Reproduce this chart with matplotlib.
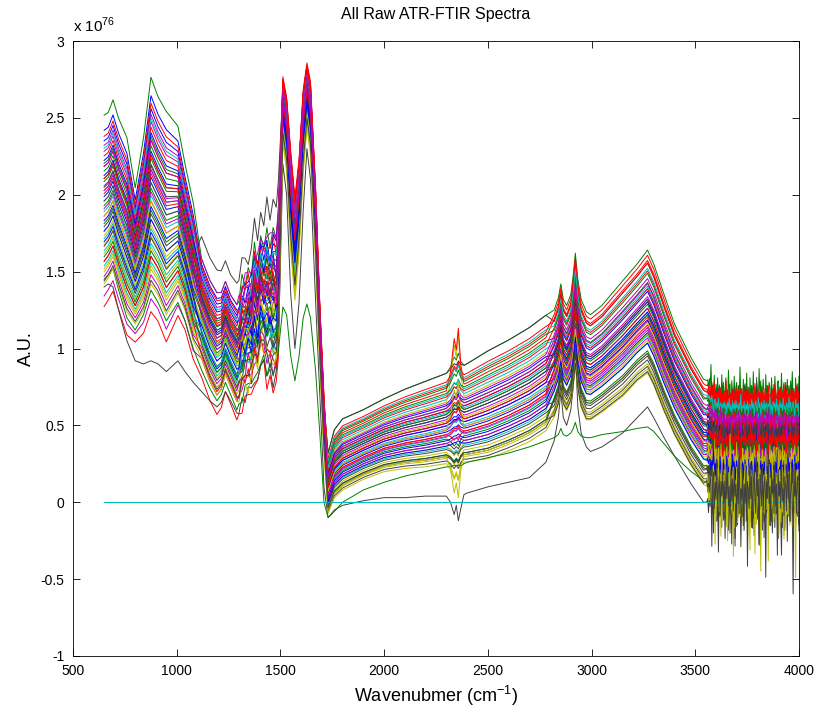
import numpy as np
import matplotlib
matplotlib.use('Agg')
import matplotlib.pyplot as plt
from matplotlib.ticker import FuncFormatter

plt.rcParams['font.family'] = ['Liberation Sans', 'DejaVu Sans']
plt.rcParams['axes.unicode_minus'] = False
plt.rcParams['mathtext.fontset'] = 'custom'
plt.rcParams['mathtext.rm'] = 'Liberation Sans'

SCALE = 1e76

# anchor wavenumbers (cm-1), split in five parts of the spectrum
wn_anchor = [650, 670, 693, 720, 760, 800, 840, 876, 910, 950, 1006, 1040, 1080,
             1120, 1160, 1194, 1215, 1235, 1260, 1290, 1300, 1315, 1330, 1345, 1360,
             1375, 1390, 1405, 1420, 1435, 1450, 1465, 1480, 1490,
             1512, 1530, 1550, 1570, 1590, 1610, 1628, 1645, 1670, 1690, 1710,
             1730, 1760, 1800, 1900, 2000, 2100, 2200, 2300, 2320, 2338, 2348, 2358,
             2370, 2385, 2400, 2500, 2600, 2700, 2780,
             2820, 2840, 2852, 2864, 2880, 2900, 2912, 2922, 2934, 2950, 2975, 2995,
             3050, 3150, 3220, 3270, 3300, 3350, 3400, 3480, 3540]
region_idx = [0] * 13 + [1] * 21 + [2] * 11 + [3] * 19 + [4] * 21

# bottom and top of the main bundle of spectra (x 1e76)
env_lower = [1.42, 1.46, 1.52, 1.40, 1.24, 1.16, 1.25, 1.42, 1.35, 1.22, 1.36, 1.25, 1.05,
             0.90, 0.75, 0.66, 0.70, 0.80, 0.72, 0.62, 0.64, 0.70, 0.74, 0.80, 0.78,
             0.90, 0.86, 1.00, 0.94, 0.88, 0.92, 0.84, 0.86, 1.05,
             2.15, 1.95, 1.35, 1.02, 1.35, 1.90, 2.25, 2.05, 1.35, 0.72, 0.15,
             -0.08, 0.02, 0.07, 0.14, 0.19, 0.21, 0.22, 0.24, 0.24, 0.24, 0.25, 0.25,
             0.25, 0.25, 0.25, 0.27, 0.32, 0.38, 0.45,
             0.52, 0.60, 0.72, 0.60, 0.56, 0.62, 0.72, 0.86, 0.70, 0.58, 0.50, 0.50,
             0.55, 0.65, 0.75, 0.80, 0.72, 0.55, 0.40, 0.20, 0.08]
env_upper = [2.40, 2.42, 2.50, 2.38, 2.25, 1.95, 2.25, 2.62, 2.50, 2.40, 2.33, 2.10, 1.85,
             1.62, 1.48, 1.40, 1.40, 1.47, 1.38, 1.32, 1.36, 1.44, 1.48, 1.56, 1.52,
             1.70, 1.62, 1.76, 1.70, 1.80, 1.74, 1.82, 1.76, 1.95,
             2.78, 2.65, 2.30, 2.00, 2.25, 2.70, 2.87, 2.75, 2.05, 1.30, 0.70,
             0.30, 0.45, 0.52, 0.58, 0.65, 0.71, 0.76, 0.81, 0.82, 0.83, 0.83, 0.84,
             0.85, 0.86, 0.87, 0.95, 1.02, 1.10, 1.18,
             1.25, 1.33, 1.42, 1.32, 1.28, 1.35, 1.48, 1.62, 1.45, 1.32, 1.24, 1.22,
             1.28, 1.44, 1.55, 1.64, 1.55, 1.35, 1.16, 0.94, 0.80]

# CO2 band around 2350 cm-1
co2_wn = [2320, 2338, 2348, 2358, 2370]
co2_val = [0.30, 0.85, 0.65, 1.00, 0.35]
# jagged stretch of the fingerprint part
wiggle_wn = [1300, 1315, 1330, 1345, 1360, 1375, 1390, 1405, 1420, 1435, 1450, 1465, 1480]

# noisy detector edge above 3550 cm-1
noise_wn = list(range(3556, 4001, 4))
jitter = [0.3, -0.5, 0.8, -1.2, 0.4, 0.1, -0.7, 1.1, -0.3, 0.6, -1.5, 0.2, 0.9, -0.4, -0.9, 1.4, -0.2, 0.5, -2.2, 0.7,
          0.0, -0.6, 1.0, -0.8, 0.3, 0.6, -1.1, 0.4, -0.3, 1.6, -0.5, 0.2, -1.4, 0.8, -0.1, 0.5, -0.9, 1.2, -0.6, 0.3,
          -2.6, 0.9, -0.2, 0.4, -0.7, 1.3, -0.4, 0.1, -1.0, 0.6, 0.2, -0.8, 1.5, -0.3, 0.7, -1.2, 0.0, 0.8, -0.5, -1.8,
          1.1, -0.2, 0.4, -0.9, 0.6, 0.3, -1.3, 0.9, -0.4, 0.2, -0.6, 1.0, -0.1, -3.2, 0.5, 0.7, -0.8, 0.3, -0.4, 1.2,
          -0.7, 0.1, 0.6, -1.0, 0.4, -0.2, 0.8, -0.5, 0.4, -1.1, 0.7, -0.3, 1.3, -0.6, 0.2, -1.7, 0.9, -0.4, 0.5, -0.8,
          1.0, -0.2, 0.3, -1.2, 0.6, -0.5, 2.0, -0.9, 0.1, -0.3, 0.8, -1.4]
# noise grows in while the curves still settle onto their edge level
noise_ramp = [0.15, 0.25, 0.35, 0.45, 0.55, 0.65, 0.75, 0.85, 0.95] + [1.0] * 103
settle = [0.93, 0.86, 0.79, 0.72, 0.65, 0.58, 0.51, 0.44, 0.38, 0.32, 0.26, 0.21,
          0.16, 0.12, 0.08, 0.05, 0.02] + [0.0] * 95
end_lower, end_upper = 0.03, 0.72

# per-spectrum position inside the bundle, one list per part
u_fp = [0.95, 1.12, -0.15, 0.55, -0.08, 0.35, 0.70, 1.02, 0.80, 0.45,
        0.62, 0.88, 0.20, 0.00, 0.72, 0.40, 0.85, 0.30, 0.92, 0.10,
        0.15, 0.58, 0.68, 0.78, 0.48, 0.05, 0.26, 0.38, 0.82, 0.52,
        0.98, 0.12, 0.64, 0.32, 0.25, 0.42, 0.75, 0.60, 0.90, 0.50,
        0.08, 0.55, 0.35, 0.18, 0.70, 0.22, 0.78, 0.45, 0.65, 0.28,
        0.00, 0.15, 0.00, 0.62, 0.00, 0.02]
u_fp2 = [0.85, 0.95, -0.12, 0.62, 0.05, 0.40, 1.15, 0.90, 0.70, 0.55,
         0.50, 0.95, 0.30, 0.00, 0.60, 0.45, 0.75, 0.38, 0.82, 0.20,
         0.25, 0.48, 0.72, 0.68, 0.55, 0.15, 0.35, 0.30, 0.78, 0.42,
         0.88, 0.22, 0.58, 0.40, 0.18, 0.50, 0.65, 0.52, 0.80, 0.45,
         0.12, 0.62, 0.28, 0.25, 0.66, 0.30, 0.72, 0.50, 0.58, 0.35,
         0.00, 0.08, 0.00, 0.55, 0.05, 0.10]
u_am = [0.80, 0.90, 0.50, 0.70, 0.60, 0.40, 0.85, 0.95, 0.75, 0.90,
        0.65, 0.80, 0.55, 0.00, 0.70, 0.60, 0.95, 0.50, 0.85, 0.35,
        0.45, 0.75, 0.70, 0.85, 0.60, 0.50, 0.40, 0.55, 0.80, 0.70,
        0.98, 0.45, 0.75, 0.50, 0.50, 0.65, 0.80, 0.90, 0.85, 0.70,
        0.30, 0.60, 0.60, 0.50, 0.95, 0.50, 0.85, 0.45, 0.70, 0.55,
        0.00, 0.70, 0.00, 0.75, 0.35, 0.40]
u_hi = [0.55, 1.05, 0.35, 0.75, 0.45, 0.72, 1.05, 0.62, 0.30, 0.85,
        0.20, 0.40, 0.15, 0.00, 0.48, 0.82, 0.95, 0.60, 0.70, 0.08,
        0.25, 0.38, 0.65, 0.90, 0.32, 0.52, 0.22, 0.05, 0.28, 0.12,
        0.78, 0.42, 0.58, 0.50, 0.18, 0.68, 0.88, 0.35, 0.80, 0.25,
        0.02, 0.10, 0.45, 0.58, 0.62, 0.92, 0.33, 0.40, 0.55, 0.22,
        0.00, 0.48, 0.00, 0.65, 0.10, 0.12]
u_top = [0.50, 1.00, 0.42, 0.70, 0.38, 0.60, 0.90, 0.68, 0.35, 0.92,
         0.28, 0.45, 0.20, 0.00, 0.55, 0.75, 0.90, 0.52, 0.78, 0.12,
         0.18, 0.46, 0.58, 0.96, 0.40, 0.62, 0.30, 0.10, 0.36, 0.22,
         0.84, 0.34, 0.64, 0.44, 0.15, 0.60, 0.82, 0.48, 0.72, 0.32,
         0.05, 0.20, 0.52, 0.50, 0.70, 0.86, 0.40, 0.35, 0.62, 0.28,
         0.00, 0.55, 0.00, 0.74, 0.08, 0.06]
co2_amp = [0.05, 0.10, -0.05, 0.08, 0.03, 0.42, 0.05, 0.00, -0.06, 0.38,
           -0.04, 0.06, -0.10, 0.00, 0.04, 0.06, 0.10, 0.05, 0.07, -0.15,
           -0.05, 0.03, 0.08, 0.12, 0.04, 0.05, -0.08, -0.06, 0.03, -0.05,
           0.06, 0.04, 0.06, 0.10, -0.04, 0.05, 0.09, 0.04, 0.08, 0.03,
           -0.12, -0.05, 0.04, 0.06, 0.05, 0.10, 0.04, 0.30, 0.05, 0.02,
           0.00, 0.08, 0.00, 0.06, -0.28, -0.06]
noise_amp = [0.04, 0.10, 0.04, 0.04, 0.04, 0.07, 0.08, 0.05, 0.04, 0.05,
             0.04, 0.04, 0.12, 0.00, 0.05, 0.04, 0.05, 0.04, 0.04, 0.14,
             0.12, 0.06, 0.04, 0.05, 0.04, 0.04, 0.10, 0.12, 0.05, 0.05,
             0.05, 0.04, 0.04, 0.08, 0.10, 0.06, 0.05, 0.05, 0.04, 0.04,
             0.16, 0.10, 0.06, 0.05, 0.05, 0.04, 0.04, 0.10, 0.08, 0.06,
             0.00, 0.05, 0.00, 0.04, 0.18, 0.16]

# spectra that leave the bundle
gray_low = [1.40, 1.42, 1.40, 1.25, 1.05, 0.92, 0.90, 0.92, 0.90, 0.85, 0.92, 0.85, 0.78,
            0.72, 0.66, 0.62, 0.65, 0.72, 0.66, 0.58, 0.60, 0.64, 0.68, 0.74, 0.72,
            0.82, 0.78, 0.90, 0.86, 0.84, 0.86, 0.80, 0.82, 1.00,
            2.20, 2.00, 1.35, 1.00, 1.30, 1.90, 2.30, 2.10, 1.30, 0.70, 0.10,
            -0.10, -0.05, -0.02, 0.01, 0.03, 0.03, 0.04, 0.04, 0.00, -0.08, -0.02, -0.12,
            -0.04, 0.05, 0.06, 0.10, 0.13, 0.16, 0.26,
            0.40, 0.55, 0.72, 0.55, 0.50, 0.60, 0.75, 0.98, 0.62, 0.45, 0.36, 0.33,
            0.36, 0.45, 0.55, 0.62, 0.55, 0.42, 0.30, 0.12, 0.00]
green_low = [1.45, 1.48, 1.52, 1.38, 1.20, 1.12, 1.22, 1.38, 1.30, 1.18, 1.30, 1.18, 1.00,
             0.86, 0.74, 0.66, 0.70, 0.78, 0.70, 0.60, 0.62, 0.68, 0.72, 0.78, 0.76,
             0.86, 0.82, 0.92, 0.88, 0.86, 0.90, 0.84, 0.86, 0.98,
             1.27, 1.22, 0.95, 0.79, 0.95, 1.20, 1.29, 1.20, 0.85, 0.45, 0.00,
             -0.10, -0.06, 0.00, 0.08, 0.13, 0.17, 0.20, 0.23, 0.23, 0.24, 0.24, 0.24,
             0.24, 0.25, 0.26, 0.29, 0.32, 0.36, 0.40,
             0.42, 0.44, 0.48, 0.44, 0.43, 0.45, 0.48, 0.52, 0.46, 0.43, 0.42, 0.42,
             0.44, 0.46, 0.48, 0.49, 0.46, 0.38, 0.30, 0.20, 0.14]
special = {13: (gray_low, -0.02, 0.18), 50: (green_low, 0.08, 0.04)}
zero_wn = [650, 4000]
zero_spec = [0.0, 0.0]

colors = [(0, 0, 1), (0, 0.5, 0), (1, 0, 0), (0, 0.75, 0.75),
          (0.75, 0, 0.75), (0.75, 0.75, 0), (0.25, 0.25, 0.25)]

wn = np.array(wn_anchor, dtype=float)
lo = np.array(env_lower)
up = np.array(env_upper)
reg = np.array(region_idx)
co2 = np.zeros(len(wn))
for w, v in zip(co2_wn, co2_val):
    co2[wn_anchor.index(w)] = v
wig = [wn_anchor.index(w) for w in wiggle_wn]
nwn = np.array(noise_wn, dtype=float)
jit = np.array(jitter)
ramp = np.array(noise_ramp)
fade = np.array(settle)
x_all = np.concatenate([wn, nwn])

fig = plt.figure(figsize=(8.19, 7.16), dpi=100)
ax = fig.add_axes([0.0891, 0.0838, 0.8864, 0.8589])

for i in range(len(u_fp)):
    c = colors[i % 7]
    if i == 52:
        ax.plot(zero_wn, np.array(zero_spec) * SCALE, color=c, lw=0.8)
        continue
    if i in special:
        base, lvl, amp = special[i]
        y = np.array(base, dtype=float)
    else:
        u = np.array([u_fp[i], u_fp2[i], u_am[i], u_hi[i], u_top[i]])[reg]
        y = lo + u * (up - lo) + co2_amp[i] * co2
        lvl = end_lower + u_top[i] * (end_upper - end_lower)
        amp = noise_amp[i]
    y[wig] += 0.04 * np.roll(jit, 7 * i)[:len(wig)]
    y_noise = lvl + (y[-1] - lvl) * fade + amp * ramp * np.roll(jit, 11 * i)
    y_all = np.concatenate([y, y_noise])
    ax.plot(x_all, y_all * SCALE, color=c, lw=0.7)

ax.set_xlim(500, 4000)
ax.set_ylim(-1 * SCALE, 3 * SCALE)
ax.set_xticks(np.arange(500, 4001, 500))
ax.set_yticks(np.arange(-1, 3.01, 0.5) * SCALE)
ax.yaxis.set_major_formatter(FuncFormatter(lambda v, p: '%g' % round(v / SCALE, 3)))
ax.tick_params(direction='in', top=True, right=True, length=5, width=0.6,
               labelsize=10, pad=6)
for s in ax.spines.values():
    s.set_linewidth(0.6)

ax.set_title('All Raw ATR-FTIR Spectra', fontsize=11.5, pad=16)
ax.set_xlabel('Wavenubmer (cm$^{-1}$)', fontsize=13)
ax.set_ylabel('A.U.', fontsize=13)
ax.text(0.0, 1.01, 'x 10$^{76}$', transform=ax.transAxes, fontsize=11,
        ha='left', va='bottom')

fig.savefig('out.png', dpi=100)
